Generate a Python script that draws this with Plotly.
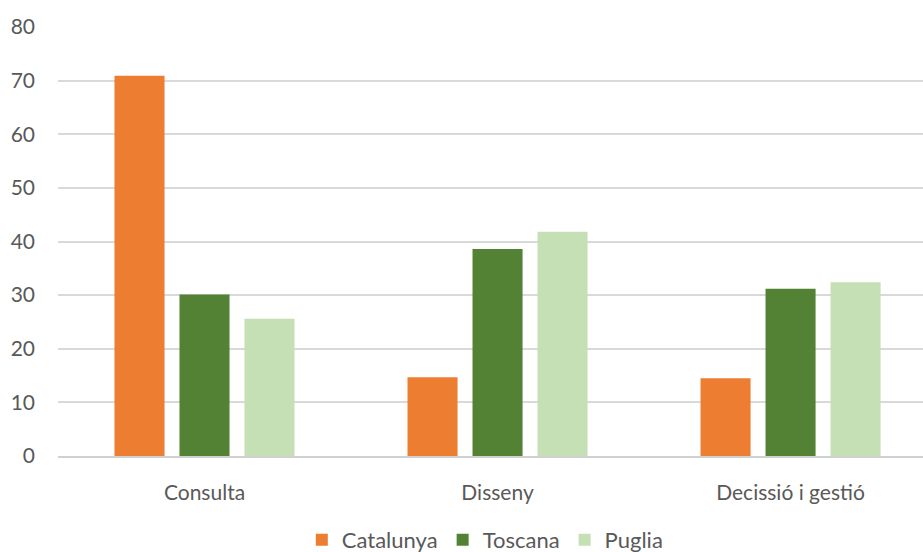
import plotly.graph_objects as go

categories = ["Consulta", "Disseny", "Decissió i gestió"]
series_names = ["Catalunya", "Toscana", "Puglia"]
catalunya = [70.9, 14.7, 14.5]
toscana = [30.1, 38.6, 31.2]
puglia = [25.6, 41.8, 32.4]
colors = ["#ED7D31", "#548235", "#C5E0B4"]
y_ticks = [0, 10, 20, 30, 40, 50, 60, 70, 80]

fig = go.Figure()
for name, vals, c in zip(series_names, [catalunya, toscana, puglia], colors):
    fig.add_trace(go.Bar(x=categories, y=vals, name=name, marker_color=c,
                         marker_line_width=0))

font_family = "Lato, Open Sans, sans-serif"
fig.update_layout(
    width=923, height=552,
    margin=dict(l=58, r=0, t=27, b=96, autoexpand=False),
    paper_bgcolor="white", plot_bgcolor="white",
    barmode="group", bargap=0.3345, bargroupgap=0.23,
    font=dict(family=font_family, size=21, color="#595959"),
    showlegend=True,
    legend=dict(orientation="h", x=0.494, xanchor="center",
                yref="container", y=0.022, yanchor="middle",
                font=dict(size=22, color="#595959"), itemwidth=30,
                traceorder="normal"),
    xaxis=dict(range=[-0.5, 2.452], showgrid=False, showline=True,
               linecolor="#d0d0d0", linewidth=1.5, ticks="", automargin=False,
               ticklabelstandoff=17, tickfont=dict(size=21, color="#595959")),
    yaxis=dict(range=[0, 80], tickvals=y_ticks, showgrid=True,
               gridcolor="#d9d9d9", gridwidth=1.5, zeroline=False, automargin=False,
               showline=False, ticks="", ticklabelstandoff=22,
               tickfont=dict(size=21, color="#595959")),
)

fig.write_html("out.html")
